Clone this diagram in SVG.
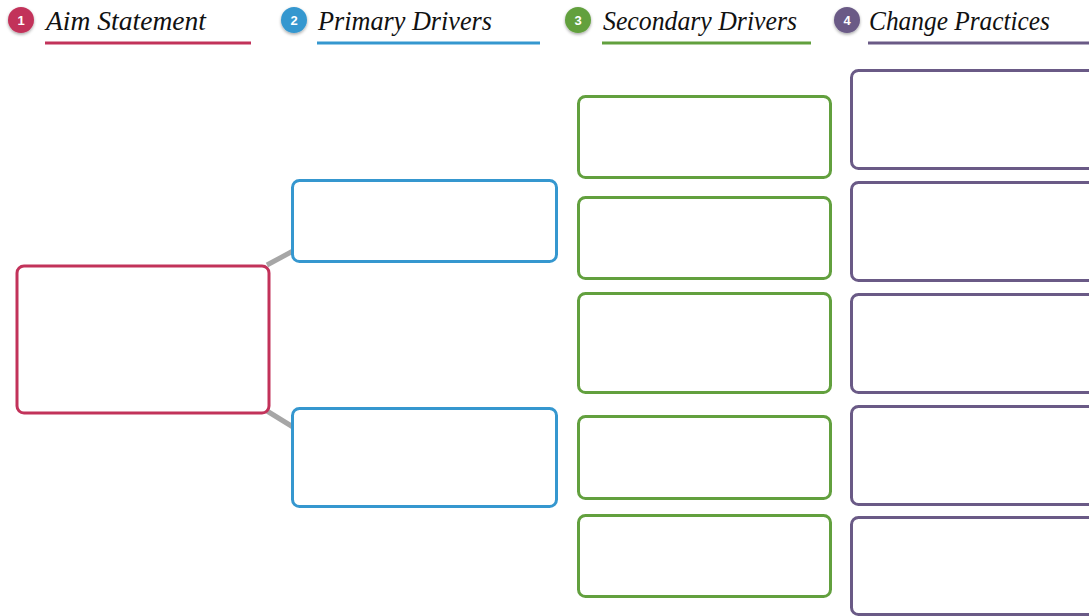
<svg xmlns="http://www.w3.org/2000/svg" width="1089" height="616" viewBox="0 0 1089 616">
<defs>
<filter id="sh" x="-50%" y="-50%" width="200%" height="200%"><feDropShadow dx="0" dy="1.5" stdDeviation="1.5" flood-color="#000" flood-opacity="0.35"/></filter>
</defs>
<style>
.title{font-family:"Liberation Serif","Times New Roman",serif;font-style:italic;font-size:27px;fill:#111}
.num{font-family:"Liberation Sans",Arial,sans-serif;font-weight:bold;font-size:13px;fill:#fff;text-anchor:middle}
.box{fill:#fff;stroke-width:3}
.red{stroke:#c2325a}.blue{stroke:#3597cf}.green{stroke:#62a03e}.purple{stroke:#6a5a86}
.conn{stroke:#a6a6a6;stroke-width:5;fill:none}
</style>
<rect width="1089" height="616" fill="#fff"/>
<g id="header-aim">
<circle cx="21" cy="20" r="13" fill="#c2325a" filter="url(#sh)"/>
<text class="num" x="21" y="24.5">1</text>
<text class="title" x="46" y="30" textLength="160" lengthAdjust="spacingAndGlyphs">Aim Statement</text>
<line x1="45" y1="43" x2="251" y2="43" stroke="#c2325a" stroke-width="3"/>
</g>
<g id="header-primary">
<circle cx="294" cy="20" r="13" fill="#3597cf" filter="url(#sh)"/>
<text class="num" x="294" y="24.5">2</text>
<text class="title" x="318" y="30" textLength="174" lengthAdjust="spacingAndGlyphs">Primary Drivers</text>
<line x1="317" y1="43" x2="540" y2="43" stroke="#3597cf" stroke-width="3"/>
</g>
<g id="header-secondary">
<circle cx="578" cy="20" r="13" fill="#62a03e" filter="url(#sh)"/>
<text class="num" x="578" y="24.5">3</text>
<text class="title" x="603" y="30" textLength="194" lengthAdjust="spacingAndGlyphs">Secondary Drivers</text>
<line x1="602" y1="43" x2="811" y2="43" stroke="#62a03e" stroke-width="3"/>
</g>
<g id="header-change">
<circle cx="847" cy="20" r="13" fill="#6a5a86" filter="url(#sh)"/>
<text class="num" x="847" y="24.5">4</text>
<text class="title" x="869" y="30" textLength="181" lengthAdjust="spacingAndGlyphs">Change Practices</text>
<line x1="868" y1="43" x2="1089" y2="43" stroke="#6a5a86" stroke-width="3"/>
</g>
<g id="connectors">
<line class="conn" x1="267" y1="265" x2="293" y2="251"/>
<line class="conn" x1="267" y1="411" x2="293" y2="427"/>
</g>
<g id="aim"><rect class="box red" x="17" y="266" width="252" height="147" rx="7"/></g>
<g id="primary-1"><rect class="box blue" x="292.5" y="180.5" width="264" height="81" rx="7"/></g>
<g id="primary-2"><rect class="box blue" x="292.5" y="408.5" width="264" height="98" rx="7"/></g>
<g id="secondary-1"><rect class="box green" x="578.5" y="96.5" width="252" height="81" rx="7"/></g>
<g id="secondary-2"><rect class="box green" x="578.5" y="197.5" width="252" height="81" rx="7"/></g>
<g id="secondary-3"><rect class="box green" x="578.5" y="293.5" width="252" height="99" rx="7"/></g>
<g id="secondary-4"><rect class="box green" x="578.5" y="416.5" width="252" height="82" rx="7"/></g>
<g id="secondary-5"><rect class="box green" x="578.5" y="515.5" width="252" height="81" rx="7"/></g>
<g id="change-1"><rect class="box purple" x="851.5" y="70.5" width="260" height="98" rx="7"/></g>
<g id="change-2"><rect class="box purple" x="851.5" y="182.5" width="260" height="98" rx="7"/></g>
<g id="change-3"><rect class="box purple" x="851.5" y="294.5" width="260" height="98" rx="7"/></g>
<g id="change-4"><rect class="box purple" x="851.5" y="406.5" width="260" height="98" rx="7"/></g>
<g id="change-5"><rect class="box purple" x="851.5" y="517.5" width="260" height="97" rx="7"/></g>
</svg>
